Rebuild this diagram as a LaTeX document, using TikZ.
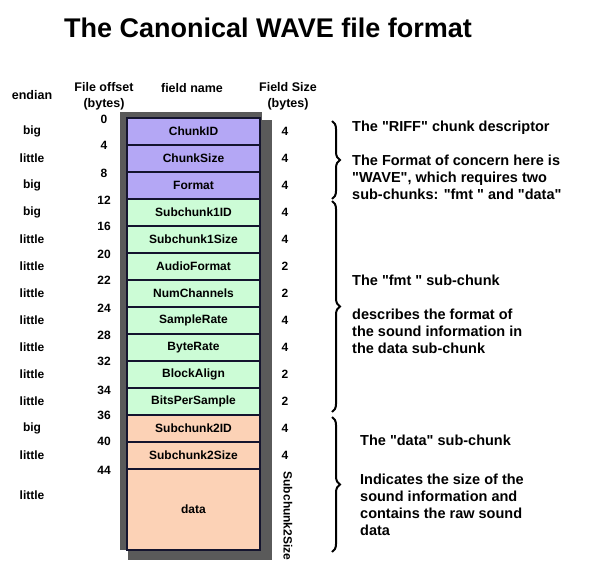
\documentclass[tikz,border=0pt]{standalone}
\usepackage{fontspec}
\setmainfont{Liberation Sans}
\usetikzlibrary{decorations.pathreplacing}
\definecolor{riffcol}{HTML}{B4A7F5}
\definecolor{fmtcol}{HTML}{CCFCD6}
\definecolor{datacol}{HTML}{FCD2B6}
\definecolor{framecol}{HTML}{5A5A5A}
\definecolor{rulecol}{HTML}{14142E}
\newcommand{\qq}[1]{\textquotedbl#1\textquotedbl}
\begin{document}
\begin{tikzpicture}[x=1pt,y=-1pt,
  field/.style={draw=rulecol,line width=1.5pt,minimum width=133pt,minimum height=27pt,inner sep=0pt,font=\fontsize{12}{14}\selectfont\bfseries},
  lbl/.style={inner sep=0pt,font=\fontsize{12}{14}\selectfont\bfseries},
  head/.style={inner sep=0pt,align=center,font=\fontsize{12.5}{16}\selectfont\bfseries},
  desc/.style={anchor=west,inner sep=0pt,align=left,font=\fontsize{14.5}{17}\selectfont\bfseries},
  brace/.style={decorate,decoration={brace,amplitude=8pt},line width=2pt}]
\useasboundingbox (0,0) rectangle (612,567);
\node (title) at (268,28) {\fontsize{27}{30}\selectfont\bfseries The Canonical WAVE file format};
\node[head] (hendian) at (32,95) {endian};
\node[head] (hoffset) at (104,96) {File offset\\(bytes)};
\node[head] (hname) at (192,88) {field name};
\node[head] (hsize) at (288,96) {Field Size\\(bytes)};
\fill[framecol] (128,120) rectangle (272,560);
\fill[framecol] (120,112) rectangle (262,550);
\node[field,fill=riffcol] (chunkid) at (193.5,131.5) {ChunkID};
\node[field,fill=riffcol] (chunksize) at (193.5,158.5) {ChunkSize};
\node[field,fill=riffcol] (format) at (193.5,185.5) {Format};
\node[field,fill=fmtcol] (sub1id) at (193.5,212.5) {Subchunk1ID};
\node[field,fill=fmtcol] (sub1size) at (193.5,239.5) {Subchunk1Size};
\node[field,fill=fmtcol] (audioformat) at (193.5,266.5) {AudioFormat};
\node[field,fill=fmtcol] (numchannels) at (193.5,293.5) {NumChannels};
\node[field,fill=fmtcol] (samplerate) at (193.5,320.5) {SampleRate};
\node[field,fill=fmtcol] (byterate) at (193.5,347.5) {ByteRate};
\node[field,fill=fmtcol] (blockalign) at (193.5,374.5) {BlockAlign};
\node[field,fill=fmtcol] (bitspersample) at (193.5,401.5) {BitsPerSample};
\node[field,fill=datacol] (sub2id) at (193.5,428.5) {Subchunk2ID};
\node[field,fill=datacol] (sub2size) at (193.5,455.5) {Subchunk2Size};
\node[field,fill=datacol,minimum height=81pt] (data) at (193.5,509.5) {data};
\node[lbl] (e1) at (32,131.5) {big};
\node[lbl] (e2) at (32,158.5) {little};
\node[lbl] (e3) at (32,185.5) {big};
\node[lbl] (e4) at (32,212.5) {big};
\node[lbl] (e5) at (32,239.5) {little};
\node[lbl] (e6) at (32,266.5) {little};
\node[lbl] (e7) at (32,293.5) {little};
\node[lbl] (e8) at (32,320.5) {little};
\node[lbl] (e9) at (32,347.5) {little};
\node[lbl] (e10) at (32,374.5) {little};
\node[lbl] (e11) at (32,401.5) {little};
\node[lbl] (e12) at (32,428.5) {big};
\node[lbl] (e13) at (32,455.5) {little};
\node[lbl] (e14) at (32,495) {little};
\node[lbl] (o1) at (104,119) {0};
\node[lbl] (o2) at (104,145) {4};
\node[lbl] (o3) at (104,173) {8};
\node[lbl] (o4) at (104,200) {12};
\node[lbl] (o5) at (104,226) {16};
\node[lbl] (o6) at (104,254) {20};
\node[lbl] (o7) at (104,280) {22};
\node[lbl] (o8) at (104,308) {24};
\node[lbl] (o9) at (104,335) {28};
\node[lbl] (o10) at (104,361) {32};
\node[lbl] (o11) at (104,390) {34};
\node[lbl] (o12) at (104,415) {36};
\node[lbl] (o13) at (104,441) {40};
\node[lbl] (o14) at (104,470) {44};
\node[lbl] (s1) at (285,131.5) {4};
\node[lbl] (s2) at (285,158.5) {4};
\node[lbl] (s3) at (285,185.5) {4};
\node[lbl] (s4) at (285,212.5) {4};
\node[lbl] (s5) at (285,239.5) {4};
\node[lbl] (s6) at (285,266.5) {2};
\node[lbl] (s7) at (285,293.5) {2};
\node[lbl] (s8) at (285,320.5) {4};
\node[lbl] (s9) at (285,347.5) {4};
\node[lbl] (s10) at (285,374.5) {2};
\node[lbl] (s11) at (285,401.5) {2};
\node[lbl] (s12) at (285,428.5) {4};
\node[lbl] (s13) at (285,455.5) {4};
\node[lbl,rotate=-90] (s14) at (288,516) {Subchunk2Size};
\coordinate (rifftop) at (332,121);
\coordinate (riffbot) at (332,199);
\coordinate (fmttop) at (332,201);
\coordinate (fmtbot) at (332,412);
\coordinate (datatop) at (332,417);
\coordinate (databot) at (332,552);
\draw[brace] (rifftop) -- (riffbot);
\draw[brace] (fmttop) -- (fmtbot);
\draw[brace] (datatop) -- (databot);
\node[desc] (riffname) at (352,128) {The \qq{RIFF} chunk descriptor};
\node[desc] (riffnote) at (352,177) {The Format of concern here is\\\qq{WAVE}, which requires two\\sub-chunks: \qq{fmt } and \qq{data}};
\node[desc] (fmtname) at (352,280) {The \qq{fmt } sub-chunk};
\node[desc] (fmtnote) at (352,331) {describes the format of\\the sound information in\\the data sub-chunk};
\node[desc] (dataname) at (360,440) {The \qq{data} sub-chunk};
\node[desc] (datanote) at (360,505) {Indicates the size of the\\sound information and\\contains the raw sound\\data};
\end{tikzpicture}
\end{document}
